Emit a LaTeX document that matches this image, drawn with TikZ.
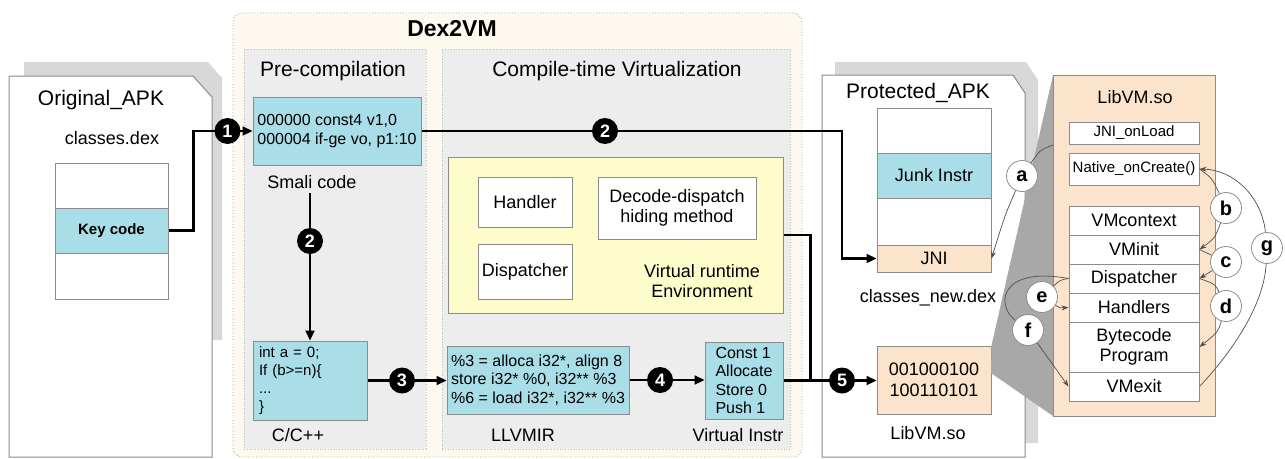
\documentclass[tikz,border=0pt]{standalone}
\usepackage{fontspec}
\setmainfont{Liberation Sans}
\usetikzlibrary{arrows.meta,calc}

\definecolor{cyanfill}{HTML}{A9DEE9}
\definecolor{peach}{HTML}{FCE4CC}
\definecolor{lightyellow}{HTML}{FFFCCC}
\definecolor{panelgray}{HTML}{EDEDED}
\definecolor{paneledge}{HTML}{BDBDBD}
\definecolor{cream}{HTML}{FDF9EF}
\definecolor{edgegray}{HTML}{8C8C8C}
\definecolor{shadowgray}{HTML}{D8D8D8}
\definecolor{wedgegray}{HTML}{A8A8A8}
\definecolor{thinline}{HTML}{505050}

\begin{document}
\begin{tikzpicture}[x=1pt,y=-1pt,
  wh/.style 2 args={minimum width=#1pt, minimum height=#2pt},
  bx/.style={draw=edgegray, line width=1pt, inner sep=0pt, fill=white},
  ttl/.style={font=\fontsize{21}{24}\selectfont, inner sep=0pt},
  lbl/.style={font=\fontsize{18}{20.5}\selectfont, inner sep=0pt},
  codetxt/.style={font=\fontsize{16}{18.5}\selectfont, align=left},
  smalltxt/.style={font=\fontsize{15}{17}\selectfont},
  pnl/.style={draw=paneledge, dotted, line width=0.8pt, fill=panelgray, inner sep=0pt},
  numc/.style={circle, fill=black, text=white, font=\fontsize{18}{18}\selectfont\bfseries, minimum size=26pt, inner sep=0pt},
  letc/.style={circle, draw=edgegray, fill=white, line width=0.8pt, font=\fontsize{20}{20}\selectfont\bfseries, minimum size=31pt, inner sep=0pt},
  flowarrow/.style={line width=2.2pt, -{Triangle[length=10pt,width=9pt]}},
  flowline/.style={line width=2.2pt},
  fine/.style={draw=thinline, line width=0.7pt},
  tipd/.style={-{Stealth[length=7pt,width=5pt]}},
]
\useasboundingbox (0,0) rectangle (1285,458);

% ---------- Original APK ----------
\fill[shadowgray] (24,62) -- (208,62) -- (222,78) -- (222,340) -- (24,340) -- cycle;
\draw[edgegray, line width=1pt, fill=white] (9,76) -- (193,76) -- (212,97) -- (212,457) -- (9,457) -- cycle;
\node[ttl] (origtitle) at (101,100) {Original\_APK};
\node[lbl] (classes) at (112,138) {classes.dex};
\node[bx, wh={113}{45}] (ktop) at (111.5,185.5) {};
\node[bx, fill=cyanfill, wh={113}{45}, font=\fontsize{15}{17}\selectfont\bfseries] (key) at (111.5,230.5) {Key code};
\node[bx, wh={113}{46}] (kbot) at (111.5,276) {};

% ---------- Dex2VM ----------
\node[draw=edgegray!80, dotted, line width=0.8pt, rounded corners=9pt, fill=cream, wh={569}{444}] (dex) at (517.5,235) {};
\node[font=\fontsize{23}{26}\selectfont\bfseries, inner sep=0pt] (dextitle) at (452,29) {Dex2VM};
\node[pnl, wh={182}{400}] (pre) at (335,249) {};
\node[pnl, wh={348}{400}] (ctv) at (616,249) {};
\node[ttl] (pretitle) at (333,71) {Pre-compilation};
\node[ttl] (ctvtitle) at (617,71) {Compile-time Virtualization};

\node[bx, fill=cyanfill, wh={168}{68}, codetxt] (smali) at (337,131) {000000 const4 v1,0\\000004 if-ge vo, p1:10};
\node[lbl] (smalilbl) at (312,182) {Smali code};

\node[bx, fill=cyanfill, wh={114}{79}, font=\fontsize{15}{18}\selectfont, align=left, text width=102pt, inner xsep=6pt] (cbox) at (310,380.5) {int a = 0;\\If (b>=n)\{\\...\\\}};
\node[lbl] (clbl) at (298,435) {C/C++};

\node[bx, fill=cyanfill, wh={182}{68}, codetxt] (llvm) at (538,380) {\%3 = alloca i32*, align 8\\store i32* \%0, i32** \%3\\\%6 = load i32*, i32** \%3};
\node[lbl] (llvmlbl) at (523,435) {LLVMIR};

\node[bx, fill=cyanfill, wh={78}{77}, codetxt] (vi) at (744,380.5) {Const 1\\Allocate\\Store 0\\Push 1};
\node[lbl] (vilbl) at (738,435) {Virtual Instr};

\node[bx, fill=lightyellow, wh={335}{156}] (vre) at (615.5,235) {};
\node[bx, wh={94}{50}, lbl] (handler) at (525,202) {Handler};
\node[bx, wh={94}{55}, lbl] (dispatcher) at (525,271.5) {Dispatcher};
\node[bx, wh={158}{62}, lbl, align=center] (decode) at (677,208) {Decode-dispatch\\hiding method};
\node[lbl, align=center] (vretext) at (702,281) {Virtual runtime\\Environment};

% ---------- Protected APK ----------
\fill[shadowgray] (835,62) -- (1026,62) -- (1038,80) -- (1038,443) -- (835,443) -- cycle;
\draw[edgegray, line width=1pt, fill=white] (822,75) -- (1013,75) -- (1025,93) -- (1025,457) -- (822,457) -- cycle;
\node[ttl] (prottitle) at (918,93) {Protected\_APK};
\node[bx, wh={114}{45}] (dtop) at (934,130.5) {};
\node[bx, fill=cyanfill, wh={114}{45}, lbl] (junk) at (934,175.5) {Junk Instr};
\node[bx, wh={114}{47}] (dmid) at (934,221.5) {};
\node[bx, fill=peach, wh={114}{27}, lbl] (jni) at (934,258.5) {JNI};
\node[lbl] (classesnew) at (928,298) {classes\_new.dex};
\node[bx, fill=peach, wh={114}{68}, lbl, align=center] (code) at (934,380) {001000100\\100110101};
\node[lbl] (libvmlbl) at (928,433) {LibVM.so};

% ---------- zoomed view of LibVM.so ----------
\coordinate (lvNW) at (1053,75);
\coordinate (lvSW) at (1053,416);
\fill[wedgegray] (code.north east) -- (lvNW) -- (lvSW) -- (991,373) -- cycle;
\node[bx, fill=peach, wh={162}{341}] (libvm) at (1134,245.5) {};
\node[lbl] (libvmtitle) at (1135,97) {LibVM.so};
\node[bx, wh={130}{22}, smalltxt] (onload) at (1134,133) {JNI\_onLoad};
\node[bx, wh={130}{32}, smalltxt] (nat) at (1134,169) {Native\_onCreate()};
\node[bx, wh={130}{29}, lbl] (vmcontext) at (1134,220.5) {VMcontext};
\node[bx, wh={130}{29}, lbl] (vminit) at (1134,249.5) {VMinit};
\node[bx, wh={130}{29}, lbl] (disp) at (1134,278.5) {Dispatcher};
\node[bx, wh={130}{29}, lbl] (handlers) at (1134,307.5) {Handlers};
\node[bx, wh={130}{50}, lbl, align=center] (bytecode) at (1134,347) {Bytecode\\Program};
\node[bx, wh={130}{29}, lbl] (vmexit) at (1134,386.5) {VMexit};

% ---------- main flow ----------
\draw[flowarrow] (key.east) -- ++(25,0) |- (smali.west);
\coordinate (turnA) at (842,200);
\draw[flowarrow] (smali.east) -| (turnA) |- (jni.west);
\draw[flowarrow] ($(smalilbl.south -| cbox.north)+(0,4)$) -- (cbox.north);
\draw[flowarrow] (cbox.east) -- (cbox.east -| llvm.west);
\draw[flowarrow] (llvm.east) -- (llvm.east -| vi.west);
\draw[flowarrow] (vi.east) -- (vi.east -| code.west);
\draw[flowline] (vre.east) -| ($(vi.east)+(27,0)$);

\node[numc] (n1) at ($(smali.west)+(-25,0)$) {1};
\node[numc] (n2a) at (605,131) {2};
\node[numc] (n2b) at (310,241) {2};
\node[numc] (n3) at (402,380.5) {3};
\node[numc] (n4) at (660,380) {4};
\node[numc] (n5) at (842,380.5) {5};

% ---------- execution steps inside LibVM.so ----------
\node[letc] (a) at (1022,176) {a};
\node[letc] (b) at (1226,208) {b};
\node[letc] (c) at (1226,262) {c};
\node[letc] (d) at (1226,306) {d};
\node[letc] (e) at (1042,297) {e};
\node[letc] (f) at (1028,330) {f};
\node[letc] (g) at (1267,248) {g};

\coordinate (aIn) at (1053,145);
\draw[fine] (aIn) .. controls (1040,150) .. (a);
\draw[fine, tipd] (a) .. controls (1005,215) .. (jni.east);

\draw[fine] (nat.east) .. controls (1212,178) .. (b);
\draw[fine, tipd] (b) .. controls (1215,238) .. (vminit.east);
\draw[fine] (vminit.east) -- (c);
\draw[fine, tipd] (c) -- (disp.east);
\draw[fine] (disp.east) .. controls (1215,284) .. (d);
\draw[fine, tipd] (d) .. controls (1218,332) .. (bytecode.east);

\draw[fine] (vmexit.east) .. controls (1232,352) and (1264,305) .. (g);
\draw[fine, tipd] (g) .. controls (1262,198) and (1235,170) .. (nat.east);

\draw[fine] (disp.west) .. controls (1060,280) .. (e);
\draw[fine, tipd] (e) .. controls (1060,308) .. (handlers.west);
\draw[fine] (disp.west) .. controls (1000,266) and (995,305) .. (f);
\draw[fine, tipd] (f) -- (vmexit.west);
\end{tikzpicture}
\end{document}
